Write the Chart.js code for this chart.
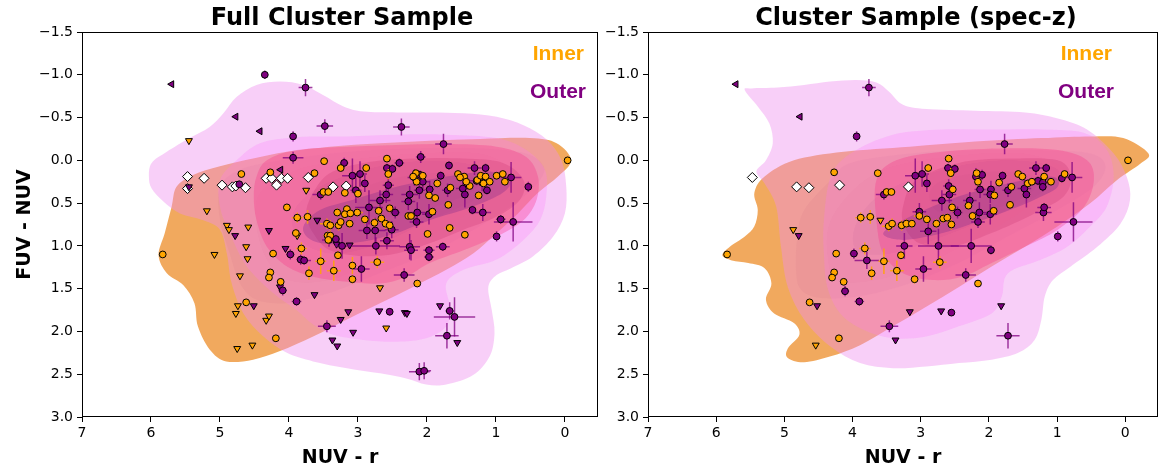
<!DOCTYPE html>
<html>
<head>
<meta charset="utf-8">
<script src="https://cdn.jsdelivr.net/npm/chart.js@4.4.0/dist/chart.umd.min.js"></script>
<style>
    body { margin: 0; background: #fff; width: 1164px; height: 473px; overflow: hidden; position: relative; }
    canvas { position: absolute; top: 0; }
    #graficoFull { left: 0; }
    #graficoSpec { left: 605px; }
</style>
</head>
<body>
<canvas id="graficoFull" width="605" height="473"></canvas>
<canvas id="graficoSpec" width="559" height="473"></canvas>
<script>
// eixos
const xTicks = [7, 6, 5, 4, 3, 2, 1, 0];
const yTicks = [-1.5, -1.0, -0.5, 0.0, 0.5, 1.0, 1.5, 2.0, 2.5, 3.0];

// ---------- Full Cluster Sample ----------
// [x, y, erroX, erroY]
const fullInner = [
    [-0.04,0.00,0.03,0.03],[5.83,1.10,0.05,0.03],[3.49,0.01,0.03,0.03],[4.69,0.16,0.03,0.03],
    [4.27,0.14,0.03,0.03],[4.03,0.55,0.03,0.03],[3.88,0.67,0.08,0.06],[3.73,0.66,0.06,0.08],
    [3.63,0.15,0.03,0.03],[3.50,0.37,0.05,0.05],[3.43,0.37,0.06,0.03],[3.25,0.09,0.06,0.03],
    [2.88,0.09,0.03,0.05],[2.58,-0.02,0.03,0.03],[2.56,0.16,0.03,0.06],[3.19,0.38,0.03,0.03],
    [3.00,0.39,0.03,0.03],[3.16,0.57,0.05,0.05],[3.30,0.61,0.05,0.05],[3.19,0.63,0.05,0.05],
    [3.11,0.62,0.08,0.05],[3.01,0.61,0.08,0.05],[2.90,0.69,0.06,0.05],[2.76,0.73,0.06,0.05],
    [2.66,0.68,0.06,0.05],[2.54,0.56,0.05,0.05],[2.70,0.59,0.05,0.05],[2.60,0.74,0.05,0.06],
    [2.54,0.76,0.05,0.05],[3.45,0.74,0.10,0.06],[3.40,0.76,0.06,0.06],[3.28,0.76,0.06,0.06],
    [3.25,0.72,0.05,0.05],[3.12,0.74,0.05,0.05],[3.44,0.88,0.06,0.05],[3.40,0.88,0.05,0.05],
    [3.43,0.93,0.05,0.05],[3.90,0.85,0.06,0.05],[3.82,1.03,0.08,0.07],[3.71,1.32,0.05,0.08],
    [3.54,1.18,0.08,0.15],[3.35,1.29,0.10,0.12],[3.29,1.11,0.05,0.05],[3.08,1.23,0.05,0.10],
    [3.08,1.39,0.05,0.05],[2.72,1.19,0.10,0.07],[4.23,1.09,0.03,0.03],[4.27,1.31,0.03,0.03],
    [4.29,1.37,0.03,0.03],[4.12,1.42,0.03,0.03],[4.62,1.66,0.03,0.03],[4.19,2.08,0.03,0.03],
    [2.14,1.44,0.04,0.04],[1.99,0.86,0.03,0.03],[1.67,0.79,0.07,0.04],[1.45,0.87,0.03,0.03],
    [1.69,0.52,0.03,0.03],[1.25,0.41,0.03,0.03],[1.92,0.60,0.05,0.03],[2.27,0.65,0.05,0.03],
    [2.23,0.65,0.05,0.03],[1.97,0.41,0.05,0.05],[1.88,0.44,0.05,0.03],[1.85,0.27,0.03,0.03],
    [1.66,0.32,0.03,0.03],[1.55,0.16,0.03,0.03],[1.46,0.19,0.03,0.03],[1.38,0.30,0.03,0.03],
    [1.43,0.25,0.03,0.03],[1.27,0.23,0.05,0.03],[1.22,0.18,0.05,0.05],[1.15,0.19,0.05,0.03],
    [1.09,0.25,0.03,0.03],[0.99,0.18,0.03,0.03],[0.90,0.16,0.03,0.03],[0.87,0.25,0.03,0.03],
    [2.16,0.15,0.05,0.05],[2.15,0.25,0.05,0.05],[2.06,0.18,0.03,0.05],[2.20,0.19,0.03,0.03],
    [1.52,0.20,0.03,0.03],[1.18,0.27,0.05,0.03]
];
const fullInnerLim = [
    [5.45,-0.23],[5.19,0.59],[5.08,1.10],[4.90,0.76],[4.87,0.81],[4.59,0.78],[4.62,1.01],
    [4.60,1.15],[4.71,1.35],[4.74,1.70],[4.77,1.79],[4.33,1.87],[4.29,1.82],[4.75,2.20],
    [4.53,2.16],[3.75,0.35],[2.68,1.49],[2.59,1.96],[3.88,0.88]
];
const fullOuter = [
    [4.35,-1.00,0.03,0.05],[3.76,-0.85,0.10,0.10],[3.48,-0.40,0.12,0.08],[2.37,-0.39,0.12,0.10],
    [3.94,-0.28,0.04,0.06],[1.76,-0.19,0.12,0.12],[3.94,-0.03,0.15,0.07],[2.09,-0.04,0.07,0.07],
    [3.20,0.03,0.06,0.06],[2.40,0.03,0.07,0.05],[2.58,0.09,0.04,0.05],[2.50,0.10,0.05,0.05],
    [1.68,0.06,0.05,0.05],[1.31,0.09,0.10,0.08],[1.15,0.09,0.05,0.05],[0.78,0.20,0.15,0.18],
    [0.53,0.31,0.04,0.06],[3.08,0.18,0.15,0.20],[2.97,0.16,0.10,0.15],[2.90,0.27,0.05,0.10],
    [3.03,0.35,0.08,0.15],[3.54,0.40,0.12,0.06],[2.56,0.29,0.08,0.08],[2.59,0.40,0.10,0.10],
    [2.68,0.47,0.15,0.12],[2.25,0.40,0.12,0.10],[2.18,0.20,0.10,0.10],[2.10,0.17,0.05,0.05],
    [2.06,0.25,0.10,0.10],[1.80,0.18,0.05,0.05],[2.11,0.35,0.08,0.10],[1.96,0.34,0.06,0.10],
    [1.70,0.35,0.08,0.08],[1.48,0.33,0.10,0.10],[1.45,0.40,0.05,0.15],[1.28,0.24,0.10,0.05],
    [1.20,0.26,0.10,0.10],[1.13,0.35,0.05,0.05],[2.46,0.61,0.07,0.07],[2.14,0.61,0.12,0.12],
    [1.97,0.63,0.10,0.12],[2.15,0.72,0.10,0.07],[2.27,0.48,0.10,0.10],[1.34,0.58,0.05,0.05],
    [1.19,0.61,0.12,0.10],[0.93,0.69,0.07,0.05],[0.75,0.72,0.28,0.23],[0.99,0.89,0.04,0.06],
    [1.77,1.01,0.10,0.05],[2.25,1.01,0.15,0.15],[2.23,1.05,0.10,0.12],[1.97,1.05,0.08,0.05],
    [1.97,1.13,0.07,0.05],[2.74,1.00,0.35,0.10],[2.58,0.94,0.10,0.10],[2.51,0.81,0.10,0.10],
    [2.75,0.82,0.15,0.15],[2.87,0.82,0.12,0.10],[3.42,0.93,0.10,0.08],[3.23,1.00,0.10,0.15],
    [3.32,0.92,0.05,0.05],[3.98,1.10,0.06,0.06],[3.83,1.16,0.06,0.06],[3.78,1.17,0.10,0.05],
    [4.09,1.52,0.06,0.06],[3.89,1.65,0.07,0.05],[2.95,1.27,0.12,0.15],[2.33,1.34,0.15,0.08],
    [3.45,1.94,0.13,0.07],[2.54,1.77,0.04,0.04],[1.67,1.76,0.06,0.10],[1.60,1.83,0.30,0.23],
    [1.71,2.05,0.17,0.15],[2.11,2.47,0.15,0.10],[2.04,2.46,0.10,0.10],[4.72,0.28,0.04,0.04],
    [2.84,0.55,0.20,0.20]
];
const fullOuterLim = [
    [5.45,0.31],[4.78,0.88],[4.29,0.82],[4.05,1.03],[4.13,1.48],[4.51,1.70],[3.63,1.57],
    [3.25,1.86],[3.14,1.77],[3.07,2.01],[3.37,2.10],[3.30,2.17],[2.69,1.76],[2.32,1.78],
    [2.29,1.79],[1.81,1.70],[1.56,2.13],[3.12,0.99],[3.31,0.98],[3.59,0.70]
];
const fullOuterLeft = [[5.70,-0.89],[4.77,-0.51],[4.42,-0.34],[4.12,0.11]];
const fullOpen = [
    [5.47,0.19],[5.47,0.33],[5.23,0.21],[4.97,0.29],[4.82,0.31],[4.77,0.30],[4.63,0.32],
    [4.33,0.21],[4.25,0.21],[4.18,0.29],[4.11,0.21],[4.02,0.21],[3.72,0.20],[3.36,0.31],[3.17,0.30]
];

// contornos KDE (vértices)
const fullInnerL1 = [[-0.09,0.00],[0.10,0.19],[0.39,0.38],[0.68,0.62],[0.99,0.85],[1.33,1.09],[1.72,1.28],[2.20,1.48],[2.68,1.67],[3.16,1.86],[3.65,2.06],[4.13,2.23],[4.52,2.33],[4.91,2.35],[5.15,2.21],[5.32,1.94],[5.37,1.67],[5.53,1.46],[5.77,1.32],[5.89,1.11],[5.80,0.85],[5.70,0.54],[5.63,0.31],[5.39,0.17],[5.00,0.07],[4.52,-0.02],[4.03,-0.10],[3.41,-0.16],[2.68,-0.20],[1.96,-0.23],[1.23,-0.25],[0.51,-0.26],[0.12,-0.20]];
const fullInnerL2 = [[0.31,0.07],[0.56,-0.08],[1.23,-0.14],[2.20,-0.14],[3.16,-0.10],[4.13,0.00],[4.71,0.11],[5.00,0.31],[5.00,0.70],[4.86,1.09],[4.71,1.44],[4.47,1.63],[4.03,1.67],[3.41,1.55],[2.68,1.32],[1.96,1.09],[1.23,0.77],[0.65,0.46],[0.36,0.23]];
const fullInnerL3 = [[0.78,0.11],[1.23,-0.08],[2.20,-0.08],[3.16,0.00],[3.89,0.11],[4.42,0.38],[4.47,0.77],[4.32,1.16],[4.03,1.40],[3.41,1.40],[2.68,1.16],[1.96,0.89],[1.23,0.54],[0.80,0.31]];
const fullInnerL4 = [[1.04,0.15],[1.72,0.01],[2.68,0.07],[3.55,0.31],[3.94,0.62],[3.84,0.93],[3.36,1.09],[2.68,0.97],[1.96,0.70],[1.23,0.42]];
const fullInnerL5 = [[1.23,0.23],[1.96,0.15],[2.78,0.27],[3.02,0.46],[2.83,0.66],[2.20,0.62],[1.47,0.42]];
const fullOuterL1 = [[6.03,0.19],[5.99,0.03],[5.77,-0.10],[5.44,-0.26],[5.15,-0.39],[4.95,-0.55],[4.76,-0.74],[4.47,-0.88],[4.13,-0.92],[3.79,-0.88],[3.50,-0.76],[3.21,-0.63],[2.92,-0.57],[2.44,-0.56],[1.96,-0.56],[1.47,-0.55],[0.99,-0.51],[0.60,-0.41],[0.26,-0.24],[0.05,0.00],[-0.02,0.31],[0.00,0.62],[0.17,0.89],[0.46,1.12],[0.78,1.26],[0.99,1.34],[1.11,1.48],[1.06,1.75],[1.02,2.02],[1.09,2.29],[1.33,2.51],[1.72,2.62],[2.01,2.62],[2.30,2.55],[2.68,2.49],[3.16,2.43],[3.65,2.35],[4.03,2.25],[4.37,2.06],[4.66,1.79],[4.83,1.44],[4.90,1.09],[5.00,0.81],[5.24,0.70],[5.58,0.62],[5.82,0.48],[5.99,0.33]];
const fullOuterL2 = [[5.00,0.23],[4.76,0.00],[4.42,-0.20],[3.89,-0.27],[3.16,-0.28],[2.44,-0.30],[1.72,-0.30],[0.99,-0.26],[0.56,-0.12],[0.29,0.11],[0.27,0.42],[0.36,0.70],[0.60,0.93],[0.99,1.16],[1.47,1.28],[1.72,1.44],[1.67,1.71],[1.72,1.94],[2.01,2.08],[2.44,2.12],[2.92,2.10],[3.36,2.04],[3.65,1.92],[3.89,1.75],[4.23,1.55],[4.61,1.24],[4.86,0.85],[5.00,0.54]];
const fullOuterL3 = [[4.47,0.19],[4.32,0.00],[3.89,-0.12],[3.16,-0.16],[2.44,-0.18],[1.72,-0.19],[0.99,-0.16],[0.56,-0.04],[0.39,0.19],[0.41,0.46],[0.60,0.70],[0.99,0.89],[1.47,1.05],[1.96,1.20],[2.30,1.36],[2.68,1.44],[3.16,1.42],[3.65,1.36],[4.03,1.24],[4.32,1.01],[4.47,0.70],[4.51,0.42]];
const fullOuterL4 = [[3.65,0.38],[3.41,0.15],[2.92,0.03],[2.20,-0.02],[1.47,-0.02],[0.90,0.03],[0.60,0.23],[0.65,0.46],[0.99,0.66],[1.47,0.81],[1.96,0.97],[2.44,1.09],[2.92,1.12],[3.41,1.05],[3.65,0.85],[3.75,0.62]];
const fullOuterL5 = [[3.79,0.77],[3.55,0.58],[3.07,0.46],[2.44,0.31],[1.72,0.19],[1.09,0.13],[0.80,0.23],[0.90,0.38],[1.33,0.54],[1.96,0.70],[2.44,0.85],[2.92,0.95],[3.41,0.98],[3.70,0.92]];

// ---------- Cluster Sample (spec-z) ----------
const specInner = [
    [-0.04,0.00,0.03,0.03],[5.84,1.10,0.05,0.03],[4.27,0.14,0.03,0.03],[3.63,0.15,0.03,0.03],
    [2.59,-0.02,0.03,0.03],[2.89,0.09,0.03,0.05],[2.56,0.15,0.03,0.06],[3.50,0.37,0.05,0.05],
    [3.43,0.37,0.06,0.03],[3.88,0.67,0.08,0.06],[3.74,0.66,0.06,0.08],[3.47,0.77,0.10,0.06],
    [3.42,0.74,0.06,0.06],[3.28,0.76,0.06,0.06],[3.21,0.74,0.05,0.05],[3.13,0.74,0.05,0.05],
    [3.02,0.65,0.08,0.05],[2.91,0.69,0.06,0.05],[2.77,0.74,0.06,0.05],[2.67,0.68,0.06,0.05],
    [2.61,0.67,0.05,0.05],[2.54,0.55,0.05,0.05],[2.55,0.75,0.05,0.06],[3.82,1.03,0.08,0.07],
    [4.24,1.09,0.03,0.03],[4.27,1.31,0.03,0.03],[4.30,1.37,0.03,0.03],[4.13,1.42,0.03,0.03],
    [3.54,1.18,0.08,0.15],[3.29,1.11,0.05,0.05],[3.35,1.29,0.10,0.12],[3.09,1.39,0.05,0.05],
    [2.72,1.19,0.10,0.07],[3.72,1.32,0.05,0.08],[4.63,1.66,0.03,0.03],[4.20,2.08,0.03,0.03],
    [2.16,1.44,0.04,0.04],[1.69,0.52,0.03,0.03],[1.93,0.59,0.05,0.03],[1.92,0.41,0.05,0.05],
    [1.85,0.26,0.03,0.03],[1.67,0.31,0.03,0.03],[1.57,0.16,0.03,0.03],[1.51,0.19,0.03,0.03],
    [1.43,0.27,0.03,0.03],[1.37,0.25,0.05,0.03],[1.19,0.19,0.05,0.05],[1.09,0.25,0.03,0.03],
    [0.89,0.16,0.03,0.03],[2.18,0.15,0.05,0.05],[2.16,0.25,0.05,0.05],[2.24,0.65,0.05,0.03],
    [2.30,0.53,0.05,0.03],[2.53,0.34,0.03,0.03]
];
const specInnerLim = [[4.87,0.81],[4.54,2.16],[3.59,0.70]];
const specOuter = [
    [3.76,-0.85,0.10,0.10],[3.94,-0.28,0.04,0.06],[1.77,-0.19,0.12,0.12],[2.60,0.09,0.06,0.05],
    [2.50,0.10,0.05,0.05],[3.08,0.18,0.15,0.20],[2.98,0.16,0.10,0.15],[2.91,0.27,0.05,0.10],
    [3.54,0.40,0.12,0.06],[2.10,0.17,0.05,0.06],[2.19,0.19,0.05,0.10],[1.80,0.18,0.05,0.05],
    [1.31,0.09,0.10,0.08],[1.16,0.09,0.05,0.05],[0.78,0.20,0.15,0.18],[0.93,0.21,0.05,0.05],
    [1.28,0.24,0.10,0.05],[1.21,0.26,0.10,0.10],[1.21,0.31,0.05,0.05],[1.48,0.33,0.10,0.10],
    [1.45,0.40,0.05,0.15],[1.72,0.35,0.08,0.08],[1.97,0.34,0.06,0.10],[2.13,0.34,0.08,0.10],
    [1.98,0.40,0.10,0.10],[2.58,0.40,0.10,0.10],[2.59,0.30,0.08,0.08],[2.69,0.47,0.15,0.12],
    [2.28,0.47,0.10,0.10],[2.46,0.61,0.07,0.07],[2.14,0.61,0.12,0.12],[1.98,0.63,0.10,0.12],
    [2.16,0.72,0.10,0.07],[3.02,0.60,0.10,0.10],[2.89,0.83,0.12,0.15],[3.24,1.00,0.12,0.15],
    [2.74,1.00,0.30,0.20],[2.26,1.00,0.30,0.20],[1.97,1.05,0.05,0.05],[1.20,0.61,0.12,0.10],
    [1.19,0.55,0.10,0.05],[0.76,0.72,0.28,0.23],[0.99,0.89,0.04,0.06],[3.98,1.09,0.06,0.06],
    [3.79,1.17,0.18,0.10],[2.96,1.27,0.12,0.15],[2.34,1.34,0.15,0.08],[4.11,1.53,0.06,0.06],
    [3.90,1.65,0.07,0.05],[3.46,1.94,0.13,0.07],[2.55,1.78,0.04,0.04],[1.72,2.05,0.17,0.15]
];
const specOuterLim = [[4.79,0.88],[4.52,1.70],[3.37,2.10],[3.16,1.77],[2.70,1.76],[1.82,1.70]];
const specOuterLeft = [[5.71,-0.89],[4.77,-0.51]];
const specOpen = [[5.47,0.20],[4.82,0.31],[4.64,0.32],[4.19,0.29],[3.18,0.31]];

const specInnerL1 = [[-0.34,-0.08],[0.03,-0.26],[0.51,-0.28],[1.23,-0.26],[2.20,-0.22],[3.16,-0.16],[4.13,-0.10],[4.86,0.00],[5.29,0.19],[5.44,0.38],[5.39,0.58],[5.44,0.77],[5.58,0.89],[5.80,1.01],[5.91,1.11],[5.77,1.17],[5.53,1.20],[5.29,1.26],[5.19,1.44],[5.27,1.63],[5.15,1.79],[4.86,1.90],[4.78,2.04],[4.95,2.20],[4.95,2.31],[4.71,2.36],[4.32,2.29],[3.89,2.16],[3.41,1.94],[2.92,1.71],[2.44,1.48],[1.96,1.24],[1.47,1.01],[0.99,0.77],[0.51,0.50],[0.12,0.23],[-0.22,0.04]];
const specInnerL2 = [[0.29,0.07],[0.51,-0.08],[1.23,-0.12],[2.20,-0.12],[3.16,-0.08],[4.03,0.03],[4.32,0.23],[4.71,0.58],[4.81,0.89],[4.83,1.28],[4.76,1.51],[4.47,1.61],[3.89,1.59],[3.16,1.44],[2.44,1.20],[1.72,0.89],[0.99,0.58],[0.46,0.31]];
const specInnerL3 = [[0.85,0.11],[1.47,-0.08],[2.44,-0.06],[3.41,0.07],[3.94,0.31],[4.32,0.70],[4.37,1.09],[4.23,1.40],[3.65,1.40],[2.92,1.20],[2.20,0.93],[1.47,0.58],[0.94,0.31]];
const specInnerL4 = [[0.99,0.11],[1.72,0.00],[2.68,0.11],[3.55,0.38],[3.94,0.73],[3.94,1.05],[3.45,1.09],[2.68,0.89],[1.96,0.66],[1.23,0.38]];
const specInnerL5 = [[1.33,0.19],[1.96,0.13],[2.68,0.23],[2.88,0.42],[2.68,0.62],[1.96,0.58],[1.38,0.38]];
const specOuterL1 = [[5.58,-0.82],[5.39,-0.63],[5.22,-0.43],[5.17,-0.20],[5.27,0.00],[5.41,0.13],[5.29,0.27],[5.12,0.54],[5.05,1.01],[4.95,1.48],[4.71,1.86],[4.32,2.18],[3.89,2.37],[3.41,2.43],[2.92,2.41],[2.44,2.37],[1.96,2.33],[1.57,2.25],[1.33,2.10],[1.23,1.86],[1.18,1.59],[1.06,1.40],[0.80,1.24],[0.41,1.01],[0.07,0.74],[-0.07,0.46],[-0.02,0.19],[0.17,-0.08],[0.56,-0.36],[0.99,-0.49],[1.47,-0.56],[2.20,-0.58],[2.92,-0.60],[3.26,-0.65],[3.46,-0.80],[3.65,-0.91],[3.94,-0.94],[4.33,-0.92],[4.71,-0.88],[5.10,-0.85],[5.48,-0.84]];
const specOuterL2 = [[4.32,0.19],[4.03,-0.08],[3.41,-0.30],[2.68,-0.36],[1.96,-0.36],[1.23,-0.36],[0.60,-0.32],[0.27,-0.12],[0.17,0.19],[0.27,0.54],[0.51,0.77],[0.85,1.01],[1.23,1.16],[1.72,1.32],[1.81,1.59],[1.96,1.79],[2.44,1.94],[2.92,2.06],[3.41,2.08],[3.84,1.98],[4.18,1.79],[4.37,1.48],[4.42,1.09],[4.42,0.70]];
const specOuterL3 = [[3.65,0.23],[3.36,0.00],[2.68,-0.10],[1.72,-0.14],[0.99,-0.12],[0.56,0.00],[0.46,0.23],[0.60,0.54],[0.99,0.81],[1.47,1.01],[1.96,1.20],[2.39,1.36],[2.83,1.40],[3.26,1.32],[3.55,1.09],[3.65,0.70]];
const specOuterL4 = [[3.26,0.54],[3.07,0.23],[2.44,0.03],[1.72,-0.02],[0.99,0.00],[0.80,0.19],[0.90,0.42],[1.33,0.62],[1.96,0.85],[2.54,1.01],[3.02,0.97],[3.24,0.77]];
const specOuterL5 = [[3.55,0.85],[3.16,0.66],[2.44,0.42],[1.72,0.27],[1.09,0.19],[0.99,0.31],[1.33,0.46],[1.96,0.66],[2.68,0.85],[3.26,0.93]];

// cores dos níveis
const coresInner = ["rgba(236,140,40,0.75)", "rgba(200,110,60,0.18)", "rgba(200,110,60,0.18)", "rgba(170,90,50,0.2)", "rgba(150,80,40,0.22)"];
const coresOuter = ["rgba(238,140,238,0.42)", "rgba(250,120,250,0.25)", "rgba(245,60,140,0.35)", "rgba(200,50,110,0.25)", "rgba(120,40,140,0.3)"];

const FONTE = "'DejaVu Sans', sans-serif";
const LARANJA = "#FFA500";
const ROXO = "#800080";

function caminhoSuave(ctx, pts) {
    const n = pts.length;
    ctx.moveTo(pts[0][0], pts[0][1]);
    for (let i = 0; i < n; i++) {
        const p0 = pts[(i - 1 + n) % n], p1 = pts[i], p2 = pts[(i + 1) % n], p3 = pts[(i + 2) % n];
        ctx.bezierCurveTo(
            p1[0] + (p2[0] - p0[0]) / 6, p1[1] + (p2[1] - p0[1]) / 6,
            p2[0] - (p3[0] - p1[0]) / 6, p2[1] - (p3[1] - p1[1]) / 6,
            p2[0], p2[1]
        );
    }
    ctx.closePath();
}

function pluginContornos(niveisInner, niveisOuter) {
    return {
        id: "contornos",
        beforeDatasetsDraw(chart) {
            const { ctx, chartArea, scales } = chart;
            ctx.save();
            ctx.beginPath();
            ctx.rect(chartArea.left, chartArea.top, chartArea.width, chartArea.height);
            ctx.clip();
            const desenhar = (nivel, cor) => {
                const pts = nivel.map(p => [scales.x.getPixelForValue(p[0]), scales.y.getPixelForValue(p[1])]);
                ctx.beginPath();
                caminhoSuave(ctx, pts);
                ctx.fillStyle = cor;
                ctx.fill();
            };
            niveisInner.forEach((nv, i) => desenhar(nv, coresInner[i]));
            niveisOuter.forEach((nv, i) => desenhar(nv, coresOuter[i]));
            ctx.restore();
        }
    };
}

const pluginErros = {
    id: "erros",
    beforeDatasetDraw(chart, args) {
        const ds = chart.data.datasets[args.index];
        if (!ds.erros) return;
        const { ctx, scales } = chart;
        ctx.save();
        ctx.strokeStyle = ds.corErro;
        ctx.lineWidth = 1.5;
        ds.erros.forEach(e => {
            const x0 = scales.x.getPixelForValue(e[0] - e[2]);
            const x1 = scales.x.getPixelForValue(e[0] + e[2]);
            const y0 = scales.y.getPixelForValue(e[1] - e[3]);
            const y1 = scales.y.getPixelForValue(e[1] + e[3]);
            const xc = scales.x.getPixelForValue(e[0]);
            const yc = scales.y.getPixelForValue(e[1]);
            ctx.beginPath();
            ctx.moveTo(x0, yc); ctx.lineTo(x1, yc);
            ctx.moveTo(xc, y0); ctx.lineTo(xc, y1);
            ctx.stroke();
        });
        ctx.restore();
    }
};

function pluginMoldura(titulo, opcoes) {
    return {
        id: "moldura",
        afterDraw(chart) {
            const { ctx, chartArea } = chart;
            ctx.save();
            ctx.strokeStyle = "#000";
            ctx.lineWidth = 1;
            ctx.strokeRect(chartArea.left + 0.5, chartArea.top + 0.5, chartArea.width - 1, chartArea.height - 1);

            // título do painel
            ctx.fillStyle = "#000";
            ctx.textAlign = "center";
            ctx.textBaseline = "alphabetic";
            ctx.font = "bold 24px " + FONTE;
            ctx.fillText(titulo, (chartArea.left + chartArea.right) / 2 + opcoes.desvioTitulo, 25);

            // rótulos Inner / Outer
            ctx.font = "bold 21px 'Liberation Sans', Arial, sans-serif";
            ctx.textAlign = "right";
            ctx.fillStyle = LARANJA;
            ctx.fillText("Inner", chartArea.right - opcoes.recuoTexto, chartArea.top + 28);
            ctx.fillStyle = ROXO;
            ctx.fillText("Outer", chartArea.right - opcoes.recuoTexto + 2, chartArea.top + 66);
            ctx.restore();
        }
    };
}

const pts = arr => arr.map(p => ({ x: p[0], y: p[1] }));

function criarPainel(id, titulo, grupos, opcoes) {
    const canvas = document.getElementById(id);
    const datasets = [
        { data: pts(grupos.inner), erros: grupos.inner, corErro: "rgba(255,165,0,0.85)",
          pointStyle: "circle", pointRadius: 3.4, backgroundColor: LARANJA, borderColor: "#000", borderWidth: 1 },
        { data: pts(grupos.outer), erros: grupos.outer, corErro: "rgba(128,0,128,0.75)",
          pointStyle: "circle", pointRadius: 3.4, backgroundColor: ROXO, borderColor: "#000", borderWidth: 1 },
        { data: pts(grupos.innerLim), pointStyle: "triangle", rotation: 180, pointRadius: 4,
          backgroundColor: LARANJA, borderColor: "#000", borderWidth: 1 },
        { data: pts(grupos.outerLim), pointStyle: "triangle", rotation: 180, pointRadius: 4,
          backgroundColor: ROXO, borderColor: "#000", borderWidth: 1 },
        { data: pts(grupos.outerLeft), pointStyle: "triangle", rotation: 270, pointRadius: 4,
          backgroundColor: ROXO, borderColor: "#000", borderWidth: 1 },
        { data: pts(grupos.open), pointStyle: "rectRot", pointRadius: 5,
          backgroundColor: "#fff", borderColor: "#000", borderWidth: 1 }
    ];

    new Chart(canvas, {
        type: "scatter",
        data: { datasets },
        options: {
            responsive: false,
            animation: false,
            events: [],
            layout: { padding: { left: 0, right: opcoes.padDireita, top: 32, bottom: 0 } },
            plugins: {
                legend: { display: false },
                tooltip: { enabled: false },
                title: { display: false }
            },
            scales: {
                x: {
                    type: "linear",
                    reverse: true,
                    min: -0.48,
                    max: 7,
                    afterBuildTicks: s => { s.ticks = xTicks.map(v => ({ value: v })); },
                    afterFit: s => { s.height = 56; },
                    grid: { drawOnChartArea: false, drawTicks: true, tickLength: 5, color: "#000" },
                    border: { display: false },
                    ticks: { color: "#000", font: { family: FONTE, size: 14 }, padding: 3, maxRotation: 0,
                             callback: v => String(v) },
                    title: { display: true, text: "NUV - r", color: "#000",
                             font: { family: FONTE, size: 19, weight: "bold" }, padding: { top: 0, bottom: 4 } }
                },
                y: {
                    type: "linear",
                    reverse: true,
                    min: -1.5,
                    max: 3.0,
                    afterBuildTicks: s => { s.ticks = yTicks.map(v => ({ value: v })); },
                    afterFit: s => { s.width = opcoes.larguraY; },
                    grid: { drawOnChartArea: false, drawTicks: true, tickLength: 5, color: "#000" },
                    border: { display: false },
                    ticks: { color: "#000", font: { family: FONTE, size: 14 }, padding: 4,
                             callback: v => v.toFixed(1).replace("-", "\u2212") },
                    title: { display: opcoes.tituloY, text: "FUV - NUV", color: "#000",
                             font: { family: FONTE, size: 19, weight: "bold" }, padding: { top: 14, bottom: 0 } }
                }
            }
        },
        plugins: [pluginContornos(grupos.niveisInner, grupos.niveisOuter), pluginErros, pluginMoldura(titulo, opcoes)]
    });
}

criarPainel("graficoFull", "Full Cluster Sample", {
    inner: fullInner, innerLim: fullInnerLim, outer: fullOuter, outerLim: fullOuterLim,
    outerLeft: fullOuterLeft, open: fullOpen,
    niveisInner: [fullInnerL1, fullInnerL2, fullInnerL3, fullInnerL4, fullInnerL5],
    niveisOuter: [fullOuterL1, fullOuterL2, fullOuterL3, fullOuterL4, fullOuterL5]
}, { padDireita: 7, larguraY: 82, tituloY: true, recuoTexto: 14, desvioTitulo: 2 });

criarPainel("graficoSpec", "Cluster Sample (spec-z)", {
    inner: specInner, innerLim: specInnerLim, outer: specOuter, outerLim: specOuterLim,
    outerLeft: specOuterLeft, open: specOpen,
    niveisInner: [specInnerL1, specInnerL2, specInnerL3, specInnerL4, specInnerL5],
    niveisOuter: [specOuterL1, specOuterL2, specOuterL3, specOuterL4, specOuterL5]
}, { padDireita: 2, larguraY: 43, tituloY: false, recuoTexto: 46, desvioTitulo: 13 });
</script>
</body>
</html>
